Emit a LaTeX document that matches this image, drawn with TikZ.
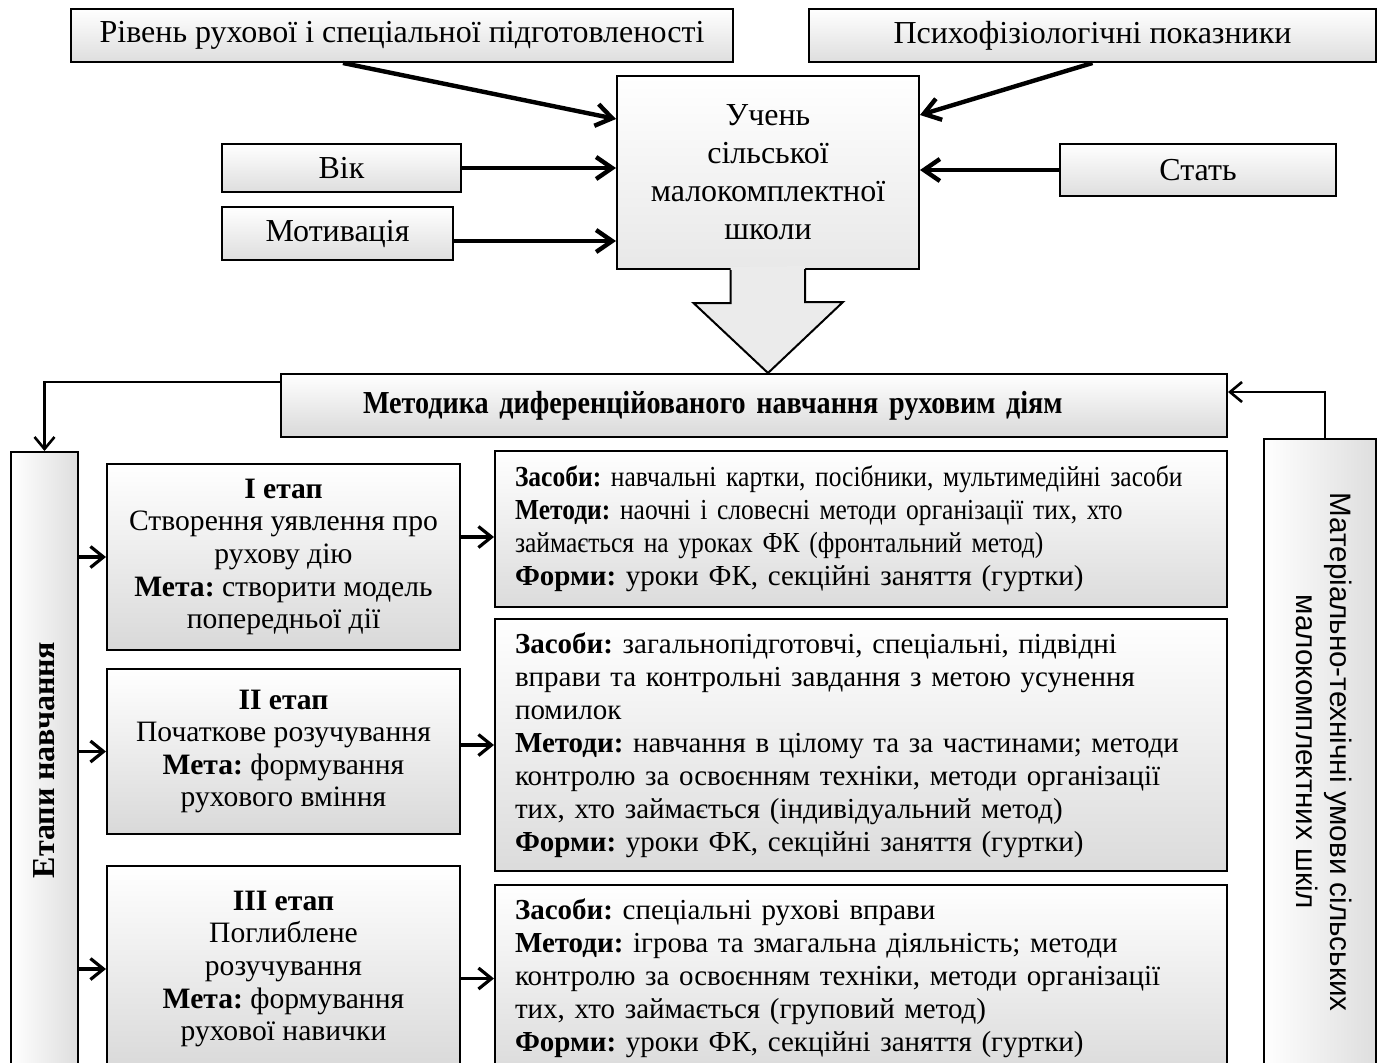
\documentclass[tikz,border=0pt]{standalone}
\usepackage{fontspec}
\setmainfont{Liberation Serif}
\newfontfamily\barsans{Liberation Sans}
\newfontfamily\narrowserif[FakeStretch=0.88]{Liberation Serif}
\usepackage{graphicx}
\usepackage{tikz}
\usetikzlibrary{arrows.meta, positioning, calc}
\frenchspacing
\newcommand{\txt}{\fontsize{14.5}{16.5}\selectfont}
\newcommand{\bigtxt}{\fontsize{16}{19}\selectfont}
\tikzset{
    baseblock/.style={rectangle, draw=black, line width=1pt, text centered, inner sep=0pt, font=\txt},
    factorbox/.style={baseblock, top color=white, bottom color=black!13, font=\bigtxt},
    pupilbox/.style={baseblock, top color=white, bottom color=black!9, align=center, font=\bigtxt},
    methodbox/.style={baseblock, top color=white, bottom color=black!15, align=left, inner xsep=41pt, text width=391pt, font=\narrowserif\fontsize{16}{18}\selectfont\bfseries},
    stagebox/.style={baseblock, top color=white, bottom color=black!15, align=center, minimum width=176.5pt, font=\fontsize{14.8}{16.3}\selectfont},
    toolbox/.style={baseblock, top color=white, bottom color=black!14, align=left, text width=346pt, inner xsep=10pt},
    barbox/.style={baseblock, left color=white, right color=black!13},
    arrow/.style={line width=2.2pt, -{Straight Barb[length=8pt,width=11pt]}},
    midarrow/.style={line width=1.6pt, -{Straight Barb[length=6.5pt,width=10.5pt]}},
    thinarrow/.style={line width=1.3pt, -{Straight Barb[length=6pt,width=10pt]}},
    line/.style={line width=1pt}
}

\begin{document}
\begin{tikzpicture}[x=0.5pt, y=-0.5pt]
    \useasboundingbox (0,0) rectangle (1378,1062);
    \clip (0,0) rectangle (1378,1062);

    % Nodes
    \node (riven) [factorbox, minimum width=331pt, minimum height=26.5pt] at (402,35.5) {Рівень рухової і спеціальної підготовленості};
    \node (psycho) [factorbox, minimum width=283.5pt, minimum height=26.5pt] at (1092.5,35.5) {Психофізіологічні показники};
    \node (vik) [factorbox, minimum width=119.5pt, minimum height=24pt] at (341.5,168) {Вік};
    \node (motiv) [factorbox, minimum width=115.5pt, minimum height=26.5pt, below=6.5pt of vik.south west, anchor=north west] {Мотивація};
    \node (stat) [factorbox, minimum width=138pt, minimum height=26pt] at (1198,170) {Стать};
    \node (uchen) [pupilbox, minimum width=151pt, minimum height=96.5pt] at (768,172.5) {Учень\\ сільської\\ малокомплектної\\ школи};

    \node (metod) [methodbox, minimum height=31.5pt] at (754,405.5) {Методика диференційованого навчання руховим діям};

    \node (etapy) [barbox, minimum width=33.5pt, minimum height=308pt] at (44.5,760) {\rotatebox{90}{\fontsize{16}{18}\selectfont\bfseries Етапи навчання}};
    \node (mat) [barbox, minimum width=56pt, minimum height=313pt] at (1320,752) {\rotatebox{-90}{\barsans\fontsize{14.8}{17}\selectfont\begin{tabular}{@{}c@{}}Матеріально-технічні умови сільських\\ малокомплектних шкіл\end{tabular}}};

    \node (st1) [stagebox, minimum height=93pt] at (283.5,557) {\textbf{I етап}\\ Створення уявлення про\\ рухову дію\\ \textbf{Мета:} створити модель\\ попередньої дії};
    \node (st2) [stagebox, minimum height=82.5pt, below=8.5pt of st1] {\textbf{II етап}\\ Початкове розучування\\ \textbf{Мета:} формування\\ рухового вміння};
    \node (st3) [stagebox, minimum height=103pt, below=15pt of st2] {\textbf{III етап}\\ Поглиблене\\ розучування\\ \textbf{Мета:} формування\\ рухової навички};

    \node (zs1) [toolbox, minimum height=78pt] at (861,529) {\narrowserif\textbf{Засоби:} навчальні картки, посібники, мультимедійні засоби\\ \textbf{Методи:} наочні і словесні методи організації тих, хто\\ займається на уроках ФК (фронтальний метод)\\ \rmfamily\textbf{Форми:} уроки ФК, секційні заняття (гуртки)};
    \node (zs2) [toolbox, minimum height=126pt, below=5pt of zs1] {\textbf{Засоби:} загальнопідготовчі, спеціальні, підвідні\\ вправи та контрольні завдання з метою усунення\\ помилок\\ \textbf{Методи:} навчання в цілому та за частинами; методи\\ контролю за освоєнням техніки, методи організації\\ тих, хто займається (індивідуальний метод)\\ \textbf{Форми:} уроки ФК, секційні заняття (гуртки)};
    \node (zs3) [toolbox, minimum height=93.5pt, below=6pt of zs2] {\textbf{Засоби:} спеціальні рухові вправи\\ \textbf{Методи:} ігрова та змагальна діяльність; методи\\ контролю за освоєнням техніки, методи організації\\ тих, хто займається (груповий метод)\\ \textbf{Форми:} уроки ФК, секційні заняття (гуртки)};

    % Block arrow
    \fill[black!8] ([xshift=-18.75pt,yshift=1.5pt]uchen.south) -- ++(0,36) -- ++(-37,0) -- (uchen.south |- metod.north) -- ++(75,-71) -- ++(-38,0) -- ++(0,-36) -- cycle;
    \draw[line] ([xshift=-18.75pt]uchen.south) -- ++(0,33) -- ++(-37,0) -- (uchen.south |- metod.north) -- ++(75,-71) -- ++(-38,0) -- ++(0,-33);

    % Arrows
    \draw[arrow] ([xshift=-29.5pt]riven.south) -- ([yshift=26.75pt]uchen.west);
    \draw[arrow] (psycho.south) -- ([yshift=28.75pt]uchen.east);
    \draw[arrow] (vik.east) -- (vik.east -| uchen.west);
    \draw[arrow] ([yshift=-3.75pt]motiv.east) -- ([yshift=-3.75pt]motiv.east -| uchen.west);
    \draw[arrow] (stat.west) -- (stat.west -| uchen.east);

    \draw[thinarrow] ([yshift=11.75pt]metod.west) -| (etapy.north);
    \draw[thinarrow] ([xshift=2.5pt]mat.north) |- ([yshift=6.75pt]metod.east);

    \draw[midarrow] (etapy.east |- st1.west) -- (st1.west);
    \draw[midarrow] (etapy.east |- st2.west) -- (st2.west);
    \draw[midarrow] (etapy.east |- st3.west) -- (st3.west);

    \draw[midarrow] ([yshift=10pt]st1.east) -- ([yshift=10pt]st1.east -| zs1.west);
    \draw[midarrow] (st2.east |- zs2.west) -- (zs2.west);
    \draw[midarrow] (st3.east |- zs3.west) -- (zs3.west);
\end{tikzpicture}
\end{document}
